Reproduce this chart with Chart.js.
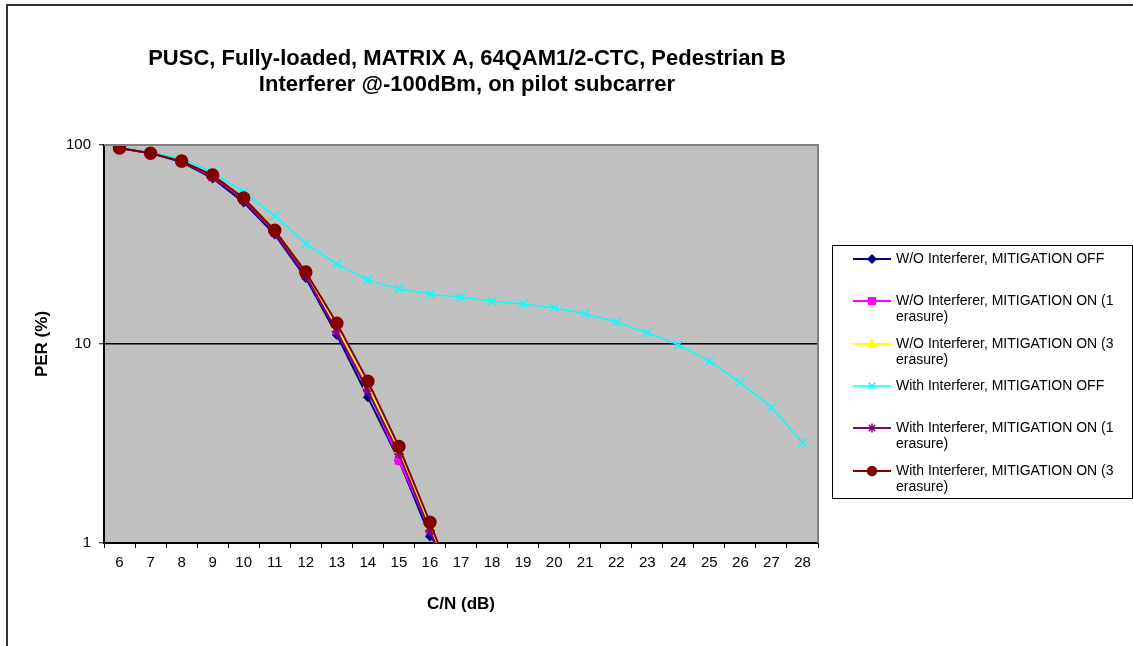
<!DOCTYPE html>
<html>
<head>
<meta charset="utf-8">
<script src="https://cdn.jsdelivr.net/npm/chart.js@4/dist/chart.umd.min.js"></script>
<style>
html,body{margin:0;padding:0;background:#fff;}
#wrap{position:relative;width:1133px;height:646px;}
</style>
</head>
<body>
<div id="wrap"><canvas id="c" width="1133" height="646"></canvas></div>
<script>
const titleLines = ["PUSC, Fully-loaded, MATRIX A, 64QAM1/2-CTC, Pedestrian B", "Interferer @-100dBm, on pilot subcarrer"];
const xTitle = "C/N (dB)";
const yTitle = "PER (%)";
const categories = ["6","7","8","9","10","11","12","13","14","15","16","17","18","19","20","21","22","23","24","25","26","27","28"];
const yTicks = [1, 10, 100];

const woOff   = [96.5, 91, 82, 68, 51.5, 35.5, 21.5, 11.1, 5.4, 2.6, 1.08, 0.7];
const woOn1   = [97, 91.5, 83, 69, 53, 36.5, 22.5, 11.8, 6.0, 2.6, 1.18, 0.5];
const woOn3   = [97, 92, 83.5, 70, 54, 37.5, 23, 12.2, 6.2, 2.9, 1.22, 0.5];
const withOff = [97, 92.5, 85, 73, 58, 44, 32, 25.2, 21, 18.9, 17.8, 17.2, 16.4, 15.9, 15.2, 14.2, 12.9, 11.4, 9.9, 8.2, 6.4, 4.8, 3.2];
const withOn1 = [96.5, 91, 82.5, 69, 52.5, 36, 22, 11.5, 5.8, 2.8, 1.15, 0.5];
const withOn3 = [96.6, 91, 83, 70.6, 54.2, 37.3, 23, 12.7, 6.5, 3.05, 1.27, 0.5];

const seriesNames = [
  "W/O Interferer, MITIGATION OFF",
  "W/O Interferer, MITIGATION ON (1 erasure)",
  "W/O Interferer, MITIGATION ON (3 erasure)",
  "With Interferer, MITIGATION OFF",
  "With Interferer, MITIGATION ON (1 erasure)",
  "With Interferer, MITIGATION ON (3 erasure)"
];

const FONT = "'Liberation Sans', Arial, sans-serif";

function ds(label, data, color, style, radius, width, order) {
  return {
    label, data,
    borderColor: color, backgroundColor: color,
    pointStyle: style, pointRadius: radius, pointHoverRadius: radius,
    pointBorderColor: color, pointBackgroundColor: color,
    pointBorderWidth: 1.5,
    borderWidth: width, tension: 0, order
  };
}

const datasets = [
  ds(seriesNames[0], woOff, "#000080", "rectRot", 4, 2, 5),
  ds(seriesNames[1], woOn1, "#FF00FF", "rect", 5, 2, 4),
  ds(seriesNames[2], woOn3, "#FFFF00", "triangle", 5, 2, 3),
  ds(seriesNames[3], withOff, "#00FFFF", "crossRot", 6, 1.5, 2),
  ds(seriesNames[4], withOn1, "#800080", "star", 5, 2, 1),
  ds(seriesNames[5], withOn3, "#800000", "circle", 6, 2, 0)
];

function drawMarker(ctx, style, color, r, x, y) {
  const h = Chart.helpers;
  if (h && h.drawPoint) {
    ctx.save();
    ctx.strokeStyle = color; ctx.fillStyle = color; ctx.lineWidth = 1.5;
    h.drawPoint(ctx, {pointStyle: style, radius: r, rotation: 0, borderWidth: 1.5}, x, y);
    ctx.restore();
  }
}

const decor = {
  id: "decor",
  beforeDraw(chart) {
    const {ctx, chartArea: a} = chart;
    ctx.save();
    ctx.fillStyle = "#fff";
    ctx.fillRect(0, 0, chart.width, chart.height);
    ctx.fillStyle = "#C0C0C0";
    ctx.fillRect(a.left, a.top, a.right - a.left, a.bottom - a.top);
    ctx.restore();
  },
  afterDatasetsDraw(chart) {
    const {ctx, chartArea: a} = chart;
    ctx.save();
    ctx.strokeStyle = "#808080";
    ctx.lineWidth = 2;
    ctx.beginPath();
    ctx.moveTo(a.left, a.top); ctx.lineTo(a.right, a.top); ctx.lineTo(a.right, a.bottom);
    ctx.stroke();
    ctx.restore();
  },
  afterDraw(chart) {
    const {ctx} = chart;
    ctx.save();
    // outer frame
    ctx.strokeStyle = "#333";
    ctx.lineWidth = 2;
    ctx.beginPath();
    ctx.moveTo(7, 650); ctx.lineTo(7, 5); ctx.lineTo(1140, 5);
    ctx.stroke();
    // title
    ctx.fillStyle = "#000";
    ctx.font = "bold 22px " + FONT;
    ctx.textAlign = "center";
    ctx.textBaseline = "middle";
    ctx.fillText(titleLines[0], 467, 59);
    ctx.fillText(titleLines[1], 467, 85);
    // legend
    const lx = 832, ly = 245, lw = 300, lh = 253;
    ctx.strokeStyle = "#000";
    ctx.lineWidth = 1;
    ctx.strokeRect(lx + 0.5, ly + 0.5, lw, lh);
    ctx.font = "14px " + FONT;
    ctx.textAlign = "left";
    const rows = [259, 301, 344, 386, 428, 471];
    chart.data.datasets.forEach((d, i) => {
      const y = rows[i];
      ctx.strokeStyle = d.borderColor;
      ctx.lineWidth = d.borderWidth;
      ctx.beginPath(); ctx.moveTo(853, y); ctx.lineTo(891, y); ctx.stroke();
      drawMarker(ctx, d.pointStyle, d.borderColor, Math.min(d.pointRadius, 4.5), 872, y);
      const words = d.label.split(" ");
      const lines = []; let cur = "";
      words.forEach(w => {
        const t = cur ? cur + " " + w : w;
        if (ctx.measureText(t).width > 234 && cur) { lines.push(cur); cur = w; } else cur = t;
      });
      lines.push(cur);
      ctx.fillStyle = "#000";
      lines.forEach((ln, k) => ctx.fillText(ln, 896, y + k * 16.5));
    });
    ctx.restore();
  }
};

new Chart(document.getElementById("c"), {
  type: "line",
  data: { labels: categories, datasets },
  plugins: [decor],
  options: {
    responsive: false,
    animation: false,
    events: [],
    layout: { padding: { left: 7, top: 145, right: 315, bottom: 0 } },
    plugins: { legend: { display: false }, title: { display: false }, tooltip: { enabled: false } },
    scales: {
      x: {
        type: "category",
        offset: true,
        afterFit(s) { s.height = 103; },
        grid: { offset: true, drawOnChartArea: false, drawTicks: true, tickLength: 5, tickColor: "#000", tickWidth: 1 },
        border: { display: true, color: "#000", width: 2 },
        ticks: { color: "#000", font: { family: FONT, size: 15 }, padding: 6, maxRotation: 0, autoSkip: false },
        title: { display: true, text: xTitle, color: "#000", font: { family: FONT, size: 17, weight: "bold" }, padding: { top: 0, bottom: 31 } }
      },
      y: {
        type: "logarithmic",
        min: 1, max: 100,
        afterFit(s) { s.width = 97; },
        afterBuildTicks(s) { s.ticks = yTicks.map(v => ({ value: v })); },
        grid: {
          drawTicks: true, tickLength: 5, tickWidth: 1,
          tickColor: "#000",
          color: (c) => (c.tick && c.tick.value === 10) ? "#000" : "rgba(0,0,0,0)",
          lineWidth: 1.5
        },
        border: { display: true, color: "#000", width: 2 },
        ticks: { color: "#000", font: { family: FONT, size: 15 }, padding: 8, callback: (v) => String(v) },
        title: { display: true, text: yTitle, color: "#000", font: { family: FONT, size: 17, weight: "bold" }, padding: { top: 25, bottom: 0 } }
      }
    }
  }
});
</script>
</body>
</html>
